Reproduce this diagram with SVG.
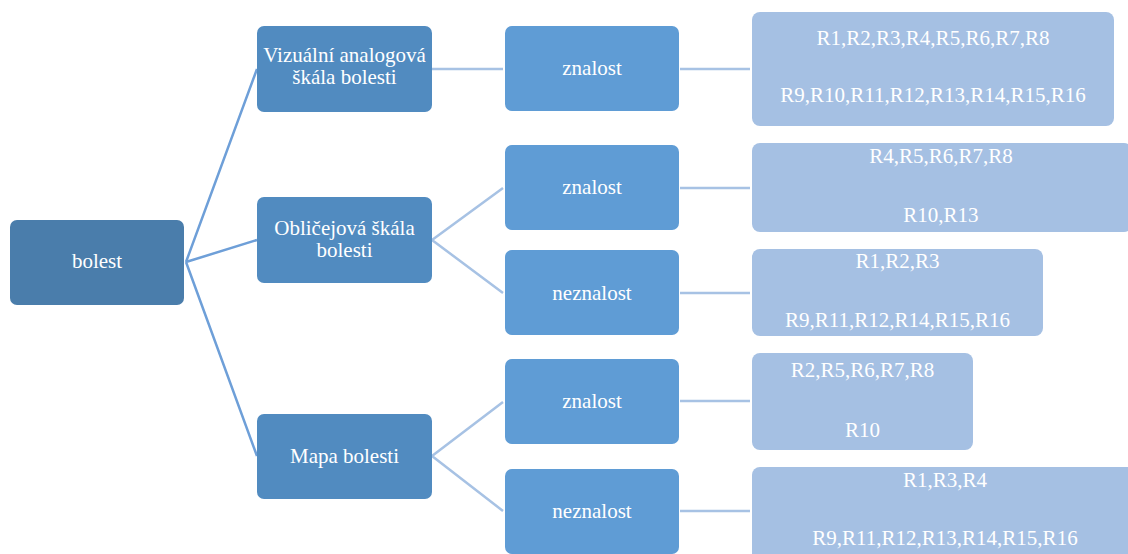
<svg xmlns="http://www.w3.org/2000/svg" width="1128" height="554" viewBox="0 0 1128 554">
<style>
text{font-family:"Liberation Serif","DejaVu Serif",serif;font-size:21px;fill:#ffffff;text-anchor:middle}
.r0{fill:#4A7DAB}
.r1{fill:#518BC0}
.r2{fill:#5F9CD5}
.r3{fill:#A5C0E3}
.c0{stroke:#6E9FD8;stroke-width:2.5;fill:none}
.c1{stroke:#A7C2E4;stroke-width:2.5;fill:none}
</style>
<rect width="1128" height="554" fill="#ffffff"/>
<g id="connectors">
<path class="c0" d="M186,262 L257,69 M186,262 L257,240 M186,262 L257,456"/>
<path class="c1" d="M432,69 L503,69 M432,240 L503,188 M432,240 L503,293 M432,456 L503,402 M432,456 L503,511"/>
<path class="c1" d="M680,69 L750,69 M680,188 L750,188 M680,293 L750,293 M680,401 L750,401 M680,511 L750,511"/>
</g>
<g id="n-bolest"><rect class="r0" x="10" y="220" width="174" height="85" rx="7"/><text x="97" y="268" font-family="Liberation Serif, serif">bolest</text></g>
<g id="n-vas"><rect class="r1" x="257" y="26" width="175" height="86" rx="7"/><text x="344.5" y="62" font-family="Liberation Serif, serif">Vizuální analogová</text><text x="344.5" y="84" font-family="Liberation Serif, serif">škála bolesti</text></g>
<g id="n-obl"><rect class="r1" x="257" y="197" width="175" height="86" rx="7"/><text x="344.5" y="235" font-family="Liberation Serif, serif">Obličejová škála</text><text x="344.5" y="257" font-family="Liberation Serif, serif">bolesti</text></g>
<g id="n-mapa"><rect class="r1" x="257" y="414" width="175" height="85" rx="7"/><text x="344.5" y="463" font-family="Liberation Serif, serif">Mapa bolesti</text></g>
<g id="n-z1"><rect class="r2" x="505" y="26" width="174" height="85" rx="7"/><text x="592" y="75" font-family="Liberation Serif, serif">znalost</text></g>
<g id="n-z2"><rect class="r2" x="505" y="145" width="174" height="85" rx="7"/><text x="592" y="194" font-family="Liberation Serif, serif">znalost</text></g>
<g id="n-n2"><rect class="r2" x="505" y="250" width="174" height="85" rx="7"/><text x="592" y="300" font-family="Liberation Serif, serif">neznalost</text></g>
<g id="n-z3"><rect class="r2" x="505" y="359" width="174" height="85" rx="7"/><text x="592" y="408" font-family="Liberation Serif, serif">znalost</text></g>
<g id="n-n3"><rect class="r2" x="505" y="469" width="174" height="85" rx="7"/><text x="592" y="518" font-family="Liberation Serif, serif">neznalost</text></g>
<g id="n-r1"><rect class="r3" x="752" y="12" width="362" height="114" rx="8"/><text x="933" y="45" font-family="Liberation Serif, serif">R1,R2,R3,R4,R5,R6,R7,R8</text><text x="933" y="102" font-family="Liberation Serif, serif">R9,R10,R11,R12,R13,R14,R15,R16</text></g>
<g id="n-r2"><rect class="r3" x="752" y="143" width="380" height="89" rx="8"/><text x="941" y="163" font-family="Liberation Serif, serif">R4,R5,R6,R7,R8</text><text x="941" y="222" font-family="Liberation Serif, serif">R10,R13</text></g>
<g id="n-r3"><rect class="r3" x="752" y="249" width="291" height="87" rx="8"/><text x="897.5" y="268" font-family="Liberation Serif, serif">R1,R2,R3</text><text x="897.5" y="327" font-family="Liberation Serif, serif">R9,R11,R12,R14,R15,R16</text></g>
<g id="n-r4"><rect class="r3" x="752" y="353" width="221" height="97" rx="8"/><text x="862.5" y="377" font-family="Liberation Serif, serif">R2,R5,R6,R7,R8</text><text x="862.5" y="437" font-family="Liberation Serif, serif">R10</text></g>
<g id="n-r5"><rect class="r3" x="752" y="467" width="386" height="100" rx="8"/><text x="945" y="487" font-family="Liberation Serif, serif">R1,R3,R4</text><text x="945" y="545" font-family="Liberation Serif, serif">R9,R11,R12,R13,R14,R15,R16</text></g>
</svg>
